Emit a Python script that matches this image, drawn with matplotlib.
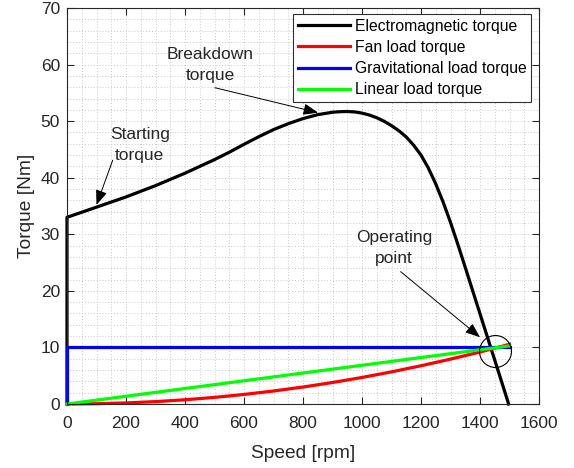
import matplotlib
matplotlib.use("Agg")
import matplotlib.pyplot as plt
from matplotlib.ticker import MultipleLocator

plt.rcParams['font.family'] = ['Liberation Sans', 'DejaVu Sans']

# Electromagnetic torque of the induction motor vs. rotor speed
em_speed = [0, 0, 50, 100, 150, 200, 250, 300, 350, 400, 450, 500, 550, 600, 650,
            700, 750, 800, 850, 900, 925, 950, 975, 1000, 1025, 1050, 1075, 1100,
            1125, 1150, 1175, 1200, 1225, 1250, 1275, 1300, 1325, 1350, 1375,
            1400, 1425, 1450, 1475, 1497]
em_torque = [0, 33.0, 33.9, 34.8, 35.7, 36.6, 37.6, 38.6, 39.7, 40.8, 42.0, 43.2,
             44.5, 45.9, 47.25, 48.5, 49.55, 50.45, 51.15, 51.57, 51.67, 51.7,
             51.63, 51.42, 51.08, 50.6, 49.98, 49.2, 48.3, 47.2, 45.75, 44.0,
             41.7, 38.9, 35.7, 32.1, 28.2, 24.15, 20.05, 15.95, 11.85, 7.75,
             3.65, 0.0]

# Fan (quadratic) load torque
fan_speed = [0, 100, 200, 300, 400, 500, 600, 700, 800, 900, 1000, 1100, 1200,
             1300, 1400, 1500]
fan_torque = [0, 0.05, 0.19, 0.42, 0.75, 1.17, 1.69, 2.30, 3.00, 3.80, 4.69,
              5.68, 6.76, 7.93, 9.19, 10.55]

# Gravitational (constant) load torque
grav_speed = [0, 0, 1500]
grav_torque = [0, 10, 10]

# Linear load torque
lin_speed = [0, 1500]
lin_torque = [0, 10.27]

# Operating point
op_speed = 1450
op_torque = 9.4

xticks = [0, 200, 400, 600, 800, 1000, 1200, 1400, 1600]
yticks = [0, 10, 20, 30, 40, 50, 60, 70]

TXT = '#262626'

fig = plt.figure(figsize=(5.74, 4.68), dpi=100)
ax = fig.add_axes([67/574, 1 - 404/468, (539-67)/574, (404-8)/468])

lw = 2.3
ax.plot(em_speed, em_torque, color='black', lw=lw, clip_on=False,
        label='Electromagnetic torque', solid_joinstyle='round')
ax.plot(fan_speed, fan_torque, color='#ff0000', lw=lw, clip_on=False,
        label='Fan load torque')
ax.plot(grav_speed, grav_torque, color='#0000ff', lw=lw, clip_on=False,
        label='Gravitational load torque')
ax.plot(lin_speed, lin_torque, color='#00ff00', lw=lw, clip_on=False,
        label='Linear load torque')

ax.plot([op_speed], [op_torque], marker='o', ms=23, mfc='none', mec='black',
        mew=0.8, ls='none', clip_on=False)

ax.set_xlim(0, 1600)
ax.set_ylim(0, 70)
ax.set_xticks(xticks)
ax.set_yticks(yticks)
ax.xaxis.set_minor_locator(MultipleLocator(50))
ax.yaxis.set_minor_locator(MultipleLocator(2))

ax.grid(which='both', ls=(0, (1, 2)), color='#c8c8c8', lw=0.7)
ax.set_axisbelow(True)

ax.tick_params(which='major', direction='in', length=5, width=0.8, colors=TXT,
               labelsize=12.5, top=True, right=True)
ax.tick_params(axis='x', which='major', pad=9)
ax.tick_params(axis='y', which='major', pad=5)
ax.tick_params(which='minor', length=0, top=True, right=True)
for s in ax.spines.values():
    s.set_color(TXT)
    s.set_linewidth(0.8)

ax.set_xlabel('Speed [rpm]', fontsize=13.8, color=TXT, labelpad=10)
ax.set_ylabel('Torque [Nm]', fontsize=13.8, color=TXT, labelpad=4)

arrow = dict(arrowstyle='-|>,head_length=0.9,head_width=0.35', color='black',
             lw=0.7, shrinkA=0, shrinkB=0)

ax.annotate('', xy=(851, 51.5), xytext=(502, 55.9), arrowprops=arrow)
ax.text(485, 59.9, 'Breakdown\ntorque', ha='center', va='center',
        fontsize=12.5, color=TXT, linespacing=1.5)

ax.annotate('', xy=(100, 35.2), xytext=(155, 43.1), arrowprops=arrow)
ax.text(247, 45.8, 'Starting\ntorque', ha='center', va='center',
        fontsize=12.5, color=TXT, linespacing=1.5)

ax.annotate('', xy=(1400, 11.8), xytext=(1131, 23.4), arrowprops=arrow)
ax.text(1108, 27.6, 'Operating\npoint', ha='center', va='center',
        fontsize=12.5, color=TXT, linespacing=1.5)

leg = ax.legend(loc='upper right', bbox_to_anchor=(0.983, 0.985),
                fontsize=11.3, handlelength=3.3, handletextpad=0.3,
                labelspacing=0.4, borderaxespad=0, borderpad=0.3,
                fancybox=False, framealpha=1, edgecolor='#303030')
leg.get_frame().set_linewidth(0.8)
for t in leg.get_texts():
    t.set_color('black')

fig.savefig('out.png', dpi=100)
